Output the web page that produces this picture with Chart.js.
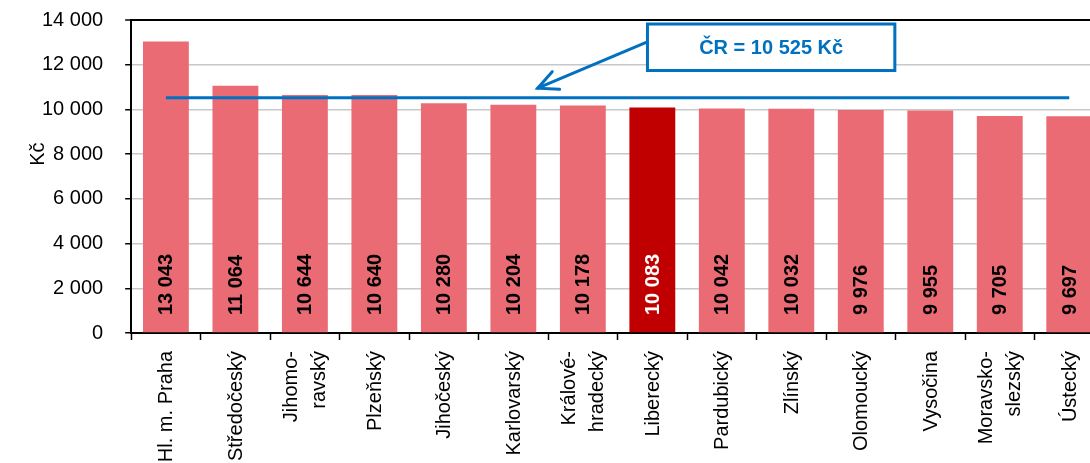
<!DOCTYPE html>
<html>
<head>
<meta charset="utf-8">
<script src="https://cdn.jsdelivr.net/npm/chart.js@4.4.1/dist/chart.umd.min.js"></script>
<style>
  html, body { margin: 0; padding: 0; background: #fff; overflow: hidden; }
  #wrap { width: 1090px; height: 463px; overflow: hidden; position: relative; }
  canvas { display: block; position: absolute; left: 0; top: -14px; }
</style>
</head>
<body>
<div id="wrap"><canvas id="c" width="1104" height="490"></canvas></div>
<script>
// ---- data ----
const categories = [
  'Hl. m. Praha', 'Středočeský', ['Jihomo-', 'ravský'], 'Plzeňský', 'Jihočeský',
  'Karlovarský', ['Králové-', 'hradecký'], 'Liberecký', 'Pardubický', 'Zlínský',
  'Olomoucký', 'Vysočina', ['Moravsko-', 'slezský'], 'Ústecký'
];
const wages = [13043, 11064, 10644, 10640, 10280, 10204, 10178, 10083, 10042, 10032, 9976, 9955, 9705, 9697];
const highlightIndex = 7; // Liberecký
const czAverage = 10525;
const averageLabel = 'ČR = 10 525 Kč';
const yTicks = [0, 2000, 4000, 6000, 8000, 10000, 12000, 14000];
const yAxisTitle = 'Kč';

// ---- styles ----
const FONT = 'Liberation Sans, Arial, Helvetica, sans-serif';
const BAR = '#EA6B73';
const BAR_HI = '#C00000';
const BLUE = '#0070C0';

function fmt(v) {
  return String(v).replace(/\B(?=(\d{3})+(?!\d))/g, ' ');
}

// annotation placement (category index / value space)
const callout = { x0: 6.93, x1: 10.49, yTop: 13820, yBottom: 11740,
                  arrowFrom: [6.92, 13010], arrowTo: [5.35, 10950] };
const yTitlePlace = { value: 8000, x: 38 };

const labelsPlugin = {
  id: 'barLabels',
  afterDatasetsDraw(chart) {
    const ctx = chart.ctx;
    const meta = chart.getDatasetMeta(1);
    const base = chart.scales.y.getPixelForValue(0);
    ctx.save();
    ctx.font = 'bold 20px ' + FONT;
    ctx.textAlign = 'left';
    ctx.textBaseline = 'middle';
    meta.data.forEach((bar, i) => {
      ctx.save();
      ctx.translate(bar.x + 1, base - 18);
      ctx.rotate(-Math.PI / 2);
      ctx.fillStyle = i === highlightIndex ? '#ffffff' : '#000000';
      ctx.fillText(fmt(wages[i]), 0, 0);
      ctx.restore();
    });
    ctx.restore();
  },
  afterDraw(chart) {
    const ctx = chart.ctx;
    const xs = chart.scales.x, ys = chart.scales.y;
    // y-axis title
    ctx.save();
    ctx.font = '20px ' + FONT;
    ctx.fillStyle = '#000';
    ctx.textAlign = 'center';
    ctx.textBaseline = 'middle';
    ctx.translate(yTitlePlace.x, ys.getPixelForValue(yTitlePlace.value));
    ctx.rotate(-Math.PI / 2);
    ctx.fillText(yAxisTitle, 0, 0);
    ctx.restore();

    // category labels, rotated, lines centred on the category
    ctx.save();
    ctx.font = '20px ' + FONT;
    ctx.fillStyle = '#000';
    ctx.textAlign = 'right';
    ctx.textBaseline = 'middle';
    const lineGap = 28;
    categories.forEach((lab, i) => {
      const lines = Array.isArray(lab) ? lab : [lab];
      const cx = xs.getPixelForTick(i);
      lines.forEach((ln, j) => {
        const dx = (j - (lines.length - 1) / 2) * lineGap;
        ctx.save();
        ctx.translate(cx + dx, xs.top + 18);
        ctx.rotate(-Math.PI / 2);
        ctx.fillText(ln, 0, 1);
        ctx.restore();
      });
    });
    ctx.restore();

    const bx0 = xs.getPixelForValue(callout.x0), bx1 = xs.getPixelForValue(callout.x1);
    const by0 = ys.getPixelForValue(callout.yTop), by1 = ys.getPixelForValue(callout.yBottom);
    ctx.save();
    const ax0 = xs.getPixelForValue(callout.arrowFrom[0]), ay0 = ys.getPixelForValue(callout.arrowFrom[1]);
    const ax1 = xs.getPixelForValue(callout.arrowTo[0]), ay1 = ys.getPixelForValue(callout.arrowTo[1]);
    ctx.strokeStyle = BLUE;
    ctx.lineWidth = 3;
    ctx.lineCap = 'round';
    ctx.beginPath();
    ctx.moveTo(ax0, ay0);
    ctx.lineTo(ax1, ay1);
    ctx.stroke();
    const ang = Math.atan2(ay1 - ay0, ax1 - ax0);
    const hl = 22, ha = 0.45;
    ctx.beginPath();
    ctx.moveTo(ax1 - hl * Math.cos(ang - ha), ay1 - hl * Math.sin(ang - ha));
    ctx.lineTo(ax1, ay1);
    ctx.lineTo(ax1 - hl * Math.cos(ang + ha), ay1 - hl * Math.sin(ang + ha));
    ctx.stroke();
    ctx.fillStyle = '#ffffff';
    ctx.fillRect(bx0, by0, bx1 - bx0, by1 - by0);
    ctx.lineWidth = 3;
    ctx.lineCap = 'butt';
    ctx.strokeRect(bx0, by0, bx1 - bx0, by1 - by0);
    ctx.fillStyle = BLUE;
    ctx.font = 'bold 20px ' + FONT;
    ctx.textAlign = 'center';
    ctx.textBaseline = 'middle';
    ctx.fillText(averageLabel, (bx0 + bx1) / 2, (by0 + by1) / 2 + 1);
    ctx.restore();
  }
};

new Chart(document.getElementById('c'), {
  data: {
    labels: categories,
    datasets: [
      {
        type: 'line',
        data: categories.map(() => czAverage),
        borderColor: BLUE,
        borderWidth: 3,
        pointRadius: 0,
        fill: false,
        order: 0
      },
      {
        type: 'bar',
        data: wages,
        backgroundColor: wages.map((_, i) => i === highlightIndex ? BAR_HI : BAR),
        barPercentage: 0.66,
        categoryPercentage: 1.0,
        order: 1
      }
    ]
  },
  options: {
    responsive: false,
    animation: false,
    events: [],
    layout: { padding: { top: 8, right: 0, left: 20, bottom: 0 } },
    plugins: { legend: { display: false }, tooltip: { enabled: false } },
    scales: {
      x: {
        offset: true,
        afterFit(scale) { scale.height = 143; },
        grid: { display: true, drawOnChartArea: false, drawTicks: true, tickLength: 7, tickColor: '#000', tickWidth: 1.5, offset: true },
        border: { display: true, color: '#000', width: 2 },
        ticks: { display: false, autoSkip: false }
      },
      y: {
        min: 0, max: 14000,
        afterBuildTicks(axis) { axis.ticks = yTicks.map(v => ({ value: v })); },
        grid: {
          color: ctx => (ctx.tick && ctx.tick.value === 14000) ? '#000' : '#C8C8C8',
          lineWidth: ctx => (ctx.tick && ctx.tick.value === 14000) ? 2 : 1.5,
          tickColor: '#000', tickLength: 6, tickWidth: 1.5
        },
        border: { display: true, color: '#000', width: 2 },
        ticks: { color: '#000', font: { family: FONT, size: 20 }, padding: 22, callback: v => fmt(v) },
        title: { display: false }
      }
    }
  },
  plugins: [labelsPlugin]
});
</script>
</body>
</html>
